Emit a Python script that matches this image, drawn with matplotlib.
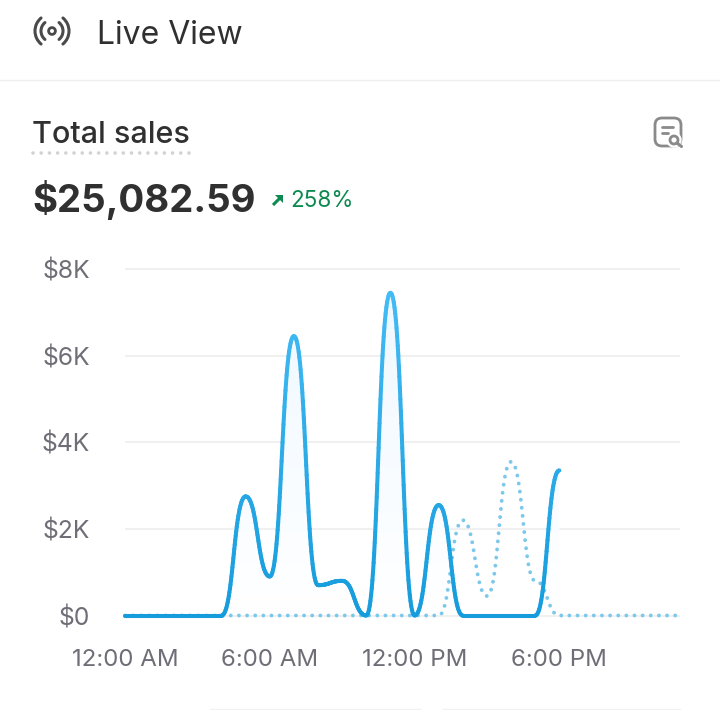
import numpy as np
import matplotlib
matplotlib.use('Agg')
import matplotlib.pyplot as plt
from matplotlib.collections import LineCollection
from matplotlib.colors import LinearSegmentedColormap
from matplotlib.patches import Arc, Circle, FancyBboxPatch, PathPatch, Polygon
from matplotlib.path import Path

plt.rcParams['font.family'] = ['Inter', 'DejaVu Sans']
plt.rcParams['lines.scale_dashes'] = False

# Data, one value per hour, in $K
hours = list(range(24))
current_hours = hours[:19]
current_sales = [0, 0, 0, 0, 0, 2.75, 0.9, 6.45, 0.7, 0.8, 0, 7.45, 0, 2.55, 0, 0, 0, 0, 3.35]
previous_sales = [0, 0, 0, 0, 0, 0, 0, 0, 0, 0, 0, 0, 0, 0, 2.2, 0.45, 3.55, 0.8, 0, 0, 0, 0, 0, 0]
y_ticks = [0, 2, 4, 6, 8]
y_labels = ['$0', '$2K', '$4K', '$6K', '$8K']
x_ticks = [0, 6, 12, 18]
x_labels = ['12:00 AM', '6:00 AM', '12:00 PM', '6:00 PM']

W, H = 720, 710
GREY = '#6f6e77'
DARK = '#303030'


def smooth(x, y, n=40):
    # horizontal tangents at every data point
    x, y = np.asarray(x, float), np.asarray(y, float)
    t = np.linspace(0, 1, n)[:, None]
    x0, x1, y0, y1 = x[:-1], x[1:], y[:-1], y[1:]
    mid = (x0 + x1) / 2
    xs = (1 - t)**3 * x0 + 3 * (1 - t)**2 * t * mid + 3 * (1 - t) * t**2 * mid + t**3 * x1
    ys = (1 - t)**3 * y0 + 3 * (1 - t)**2 * t * y0 + 3 * (1 - t) * t**2 * y1 + t**3 * y1
    return xs.T.ravel(), ys.T.ravel()


fig = plt.figure(figsize=(W / 100, H / 100), dpi=100, facecolor='white')

# chart
ax = fig.add_axes([125 / W, 1 - 615.5 / H, 555 / W, 346.5 / H])
ax.set_xlim(0, 23)
ax.set_ylim(0, 8)
ax.patch.set_alpha(0)
for s in ax.spines.values():
    s.set_visible(False)
ax.set_yticks(y_ticks, y_labels, fontsize=17.8, color=GREY)
ax.set_xticks(x_ticks, x_labels, fontsize=17.3, color=GREY)
ax.tick_params(axis='both', length=0)
ax.tick_params(axis='y', pad=25)
ax.tick_params(axis='x', pad=24)
for tick in y_ticks:
    ax.axhline(tick, color='#f0f0f1', lw=1.5, zorder=1, clip_on=False, solid_capstyle='butt')

xs, ys = smooth(current_hours, current_sales)

# soft fill under the line
fill_map = LinearSegmentedColormap.from_list('fill', ['#ffffff', '#eef8ff'])
img = ax.imshow(np.linspace(1, 0, 256)[:, None], extent=(0, 23, 0, 8), aspect='auto',
                cmap=fill_map, zorder=1.5)
img.set_clip_path(PathPatch(Path(np.column_stack([np.r_[xs, xs[-1], xs[0]], np.r_[ys, 0, 0]])),
                            transform=ax.transData))

# comparison period, dotted
px, py = smooth(hours, previous_sales)
ax.plot(px, py, color='#7cc8ea', lw=2.8, dashes=(0.01, 5.85), dash_capstyle='round',
        clip_on=False, zorder=2)

# current period, colour follows height
line_map = LinearSegmentedColormap.from_list('line', ['#169cdc', '#43bbf4'])
points = np.column_stack([xs, ys])
segments = np.stack([points[:-1], points[1:]], axis=1)
lc = LineCollection(segments, cmap=line_map, linewidths=2.9, capstyle='round', zorder=3,
                    clip_on=False)
lc.set_array((ys[:-1] + ys[1:]) / 2)
lc.set_clim(0, 7.45)
ax.add_collection(lc)

# page furniture drawn in pixel coordinates
bg = fig.add_axes([0, 0, 1, 1], zorder=-1)
bg.set_xlim(0, W)
bg.set_ylim(H, 0)
bg.axis('off')

bg.text(97, 44, 'Live View', fontsize=23, color=DARK, va='baseline')
bg.axhline(79.5, color='#efefef', lw=1)
bg.text(32.5, 143, 'Total sales', fontsize=22, color=DARK, va='baseline', weight=500)
bg.plot([33, 190], [153, 153], color='#d2d2d2', lw=2.6, dashes=(0.01, 5.9), dash_capstyle='round')
bg.text(32, 212, '$25,082.59', fontsize=27.6, color=DARK, va='baseline', weight='bold')
bg.text(290.5, 207, '258%', fontsize=16.2, color='#0d8a50', va='baseline')

# up arrow next to the percentage
green = '#0d8a50'
bg.plot([273, 281], [205, 197], color=green, lw=2.2, solid_capstyle='butt')
bg.add_patch(Polygon([[275, 195], [283, 195], [283, 203]], closed=True, fc=green, ec='none'))

# live icon
icon = '#4a4a4a'
bg.add_patch(Circle((52, 31), 3.4, fill=False, ec=icon, lw=2))
for size in [22, 34]:
    bg.add_patch(Arc((52, 31), size, size, theta1=130, theta2=230, ec=icon, lw=2.2,
                     capstyle='round'))
    bg.add_patch(Arc((52, 31), size, size, theta1=-50, theta2=50, ec=icon, lw=2.2,
                     capstyle='round'))

# report search icon
icon2 = '#8a8a8a'
bg.add_patch(FancyBboxPatch((657, 120), 22, 24, boxstyle='round,pad=2,rounding_size=7', fill=False,
                            ec=icon2, lw=2))
bg.add_patch(Circle((674, 140), 7, fc='white', ec='white', lw=1))
bg.add_patch(Circle((674, 140), 4, fill=False, ec=icon2, lw=2))
bg.plot([677, 681.5], [143, 146.5], color=icon2, lw=2.2, solid_capstyle='round')
bg.plot([662, 673], [127, 127], color=icon2, lw=2, solid_capstyle='round')
bg.plot([662, 668], [133, 133], color=icon2, lw=2, solid_capstyle='round')

# top edges of the cards below the chart
bg.plot([210, 420], [708.5, 708.5], color='#f1f1f1', lw=1)
bg.plot([443, 680], [708.5, 708.5], color='#f1f1f1', lw=1)

fig.savefig('out.png', dpi=100)
